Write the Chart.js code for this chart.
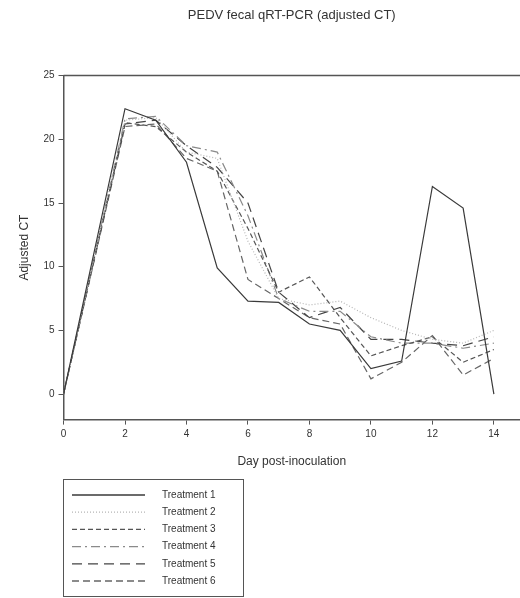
<!DOCTYPE html>
<html>
<head>
<meta charset="utf-8">
<script src="https://cdn.jsdelivr.net/npm/chart.js@4"></script>
<style>
  body { margin: 0; background: #fff; }
  #wrap { width: 520px; height: 598px; }
</style>
</head>
<body>
<div id="wrap"><canvas id="lineChart"></canvas></div>
<script>
// days sampled (no sample on day 1)
const days = [0, 2, 3, 4, 5, 6, 7, 8, 9, 10, 11, 12, 13, 14]
const labels = ['Treatment 1', 'Treatment 2', 'Treatment 3', 'Treatment 4', 'Treatment 5', 'Treatment 6']
const t1 = [0, 22.4, 21.5, 18.2, 9.9, 7.3, 7.2, 5.5, 5.0, 2.0, 2.6, 16.3, 14.6, 0]
const t2 = [0, 21.5, 21.7, 19.0, 18.5, 12.0, 7.5, 7.0, 7.3, 6.0, 5.0, 4.3, 4.0, 5.0]
const t3 = [0, 21.3, 21.0, 19.0, 17.5, 13.0, 8.0, 9.2, 6.0, 3.0, 3.8, 4.5, 2.5, 3.5]
const t4 = [0, 21.6, 21.8, 19.5, 19.0, 14.0, 7.5, 6.5, 6.5, 4.5, 4.0, 4.0, 3.6, 4.0]
const t5 = [0, 21.2, 21.5, 19.5, 17.8, 15.0, 8.0, 6.0, 6.8, 4.3, 4.3, 4.0, 3.8, 4.5]
const t6 = [0, 21.0, 21.2, 18.5, 17.5, 9.0, 7.5, 6.0, 5.5, 1.2, 2.5, 4.6, 1.5, 2.8]
const xTicks = [0, 2, 4, 6, 8, 10, 12, 14]
const yTicks = [0, 5, 10, 15, 20, 25]

const series = [t1, t2, t3, t4, t5, t6]
const styles = [
    {color: '#3a3a3a', dash: []},
    {color: '#b5b5b5', dash: [1, 2]},
    {color: '#555555', dash: [5, 3]},
    {color: '#8a8a8a', dash: [9, 4, 2, 4]},
    {color: '#444444', dash: [10, 6]},
    {color: '#666666', dash: [7, 4]}
]

function pts(vals) {
    return vals.map((v, i) => ({x: days[i], y: v}))
}

// frame line along the top of the plot
const topLine = {
    id: 'topLine',
    afterDraw(chart) {
        let ctx = chart.ctx
        let a = chart.chartArea
        ctx.save()
        ctx.strokeStyle = '#555'
        ctx.lineWidth = 1.5
        ctx.beginPath()
        ctx.moveTo(a.left, a.top)
        ctx.lineTo(a.right, a.top)
        ctx.stroke()
        ctx.restore()
    }
}

// boxed legend below the axis title
const boxLegend = {
    id: 'boxLegend',
    afterDraw(chart) {
        let ctx = chart.ctx
        ctx.save()
        ctx.strokeStyle = '#555'
        ctx.lineWidth = 1
        ctx.strokeRect(63.5, 479.5, 180, 117)
        ctx.font = '10px "Liberation Sans", Arial, sans-serif'
        ctx.fillStyle = '#333'
        ctx.textBaseline = 'middle'
        chart.data.datasets.forEach((ds, i) => {
            let y = 495 + i * 17.2
            ctx.strokeStyle = ds.borderColor
            ctx.lineWidth = 1.3
            ctx.setLineDash(ds.borderDash)
            ctx.beginPath()
            ctx.moveTo(72, y)
            ctx.lineTo(145, y)
            ctx.stroke()
            ctx.setLineDash([])
            ctx.fillText(ds.label, 162, y)
        })
        ctx.restore()
    }
}

let chartobj = document.getElementById('lineChart')
let lineChart = new Chart(chartobj, {
    type: 'line',
    data: {
        datasets: series.map((s, i) => ({
            label: labels[i],
            data: pts(s),
            borderColor: styles[i].color,
            borderDash: styles[i].dash,
            borderWidth: 1.2,
            pointRadius: 0,
            tension: 0,
            fill: false
        }))
    },
    options: {
        responsive: true,
        maintainAspectRatio: false,
        animation: false,
        layout: {padding: {left: 13, right: 0, top: 0, bottom: 125}},
        plugins: {
            legend: {display: false},
            tooltip: {enabled: false},
            title: {
                display: true,
                text: 'PEDV fecal qRT-PCR (adjusted CT)',
                fullSize: false,
                color: '#333',
                font: {family: '"Liberation Sans", Arial, sans-serif', size: 13, weight: 'normal'},
                padding: {top: 8, bottom: 52}
            }
        },
        scales: {
            x: {
                type: 'linear',
                min: 0,
                max: 14.85,
                afterBuildTicks: axis => { axis.ticks = xTicks.map(v => ({value: v})) },
                ticks: {color: '#333', font: {family: '"Liberation Sans", Arial, sans-serif', size: 10}, padding: 4, maxRotation: 0},
                grid: {drawOnChartArea: false, tickLength: 5, color: '#555'},
                border: {color: '#555', width: 1.5},
                title: {display: true, text: 'Day post-inoculation', color: '#333',
                    font: {family: '"Liberation Sans", Arial, sans-serif', size: 12}, padding: {top: 10}}
            },
            y: {
                min: -2,
                max: 25,
                afterBuildTicks: axis => { axis.ticks = yTicks.map(v => ({value: v})) },
                ticks: {color: '#333', font: {family: '"Liberation Sans", Arial, sans-serif', size: 10}, padding: 4},
                grid: {drawOnChartArea: false, tickLength: 5, color: '#555'},
                border: {color: '#555', width: 1.5},
                title: {display: true, text: 'Adjusted CT', color: '#333',
                    font: {family: '"Liberation Sans", Arial, sans-serif', size: 12}, padding: {bottom: 8}}
            }
        }
    },
    plugins: [topLine, boxLegend]
});
</script>
</body>
</html>
